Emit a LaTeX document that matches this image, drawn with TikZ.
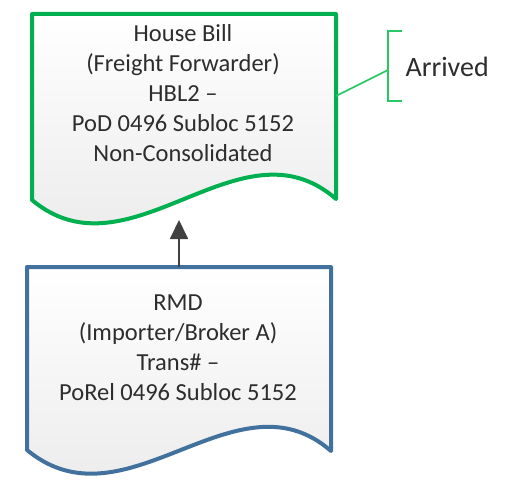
\documentclass[tikz,border=0pt]{standalone}
\usepackage{fontspec}
\setmainfont{Carlito}
\usetikzlibrary{arrows.meta}
\definecolor{docgreen}{RGB}{0,176,80}
\definecolor{docblue}{RGB}{65,113,156}
\definecolor{brkgreen}{RGB}{40,200,100}
\definecolor{txtgray}{RGB}{45,45,45}

\begin{document}
\begin{tikzpicture}[x=1pt,y=-1pt,
    document/.style ={line width=4pt, line join=round, top color=white, bottom color=black!9},
    doctext/.style ={align=center, text=txtgray, font=\fontsize{24.5}{30}\selectfont},
    link/.style ={line width=1.8pt, draw=black!75, -{Triangle[width=18pt,length=19pt]}}]
   \useasboundingbox (0,0) rectangle (508,481);

   % house bill
   \draw[document,draw=docgreen] (32,14) -- (336,14) -- (336,199)
      .. controls (240,115) and (130,282) .. (32,200) -- cycle;
   \node[doctext] (hbl) at (183,93)
      {House Bill\\(Freight Forwarder)\\HBL2 --\\PoD 0496 Subloc 5152\\Non-Consolidated};

   % rmd
   \draw[document,draw=docblue] (27,267) -- (331,267) -- (331,451)
      .. controls (236,368) and (126,532) .. (27,450) -- cycle;
   \node[doctext] (rmd) at (178,348)
      {RMD\\(Importer/Broker A)\\Trans\# --\\PoRel 0496 Subloc 5152};

   \coordinate (rmdtop) at (179,267);
   \coordinate (hblwave) at (179,220);
   \draw[link] (rmdtop) -- (hblwave);

   % annotation
   \coordinate (hblside) at (336,96);
   \coordinate (brk) at (388,70);
   \draw[brkgreen,line width=2pt] (402,31) -- (388,31) -- (388,101) -- (402,101);
   \draw[brkgreen,line width=1.6pt] (hblside) -- (brk);
   \node[anchor=west, text=txtgray, font=\fontsize{28}{34}\selectfont] (arrived) at (402,67) {Arrived};
 \end{tikzpicture}
\end{document}
